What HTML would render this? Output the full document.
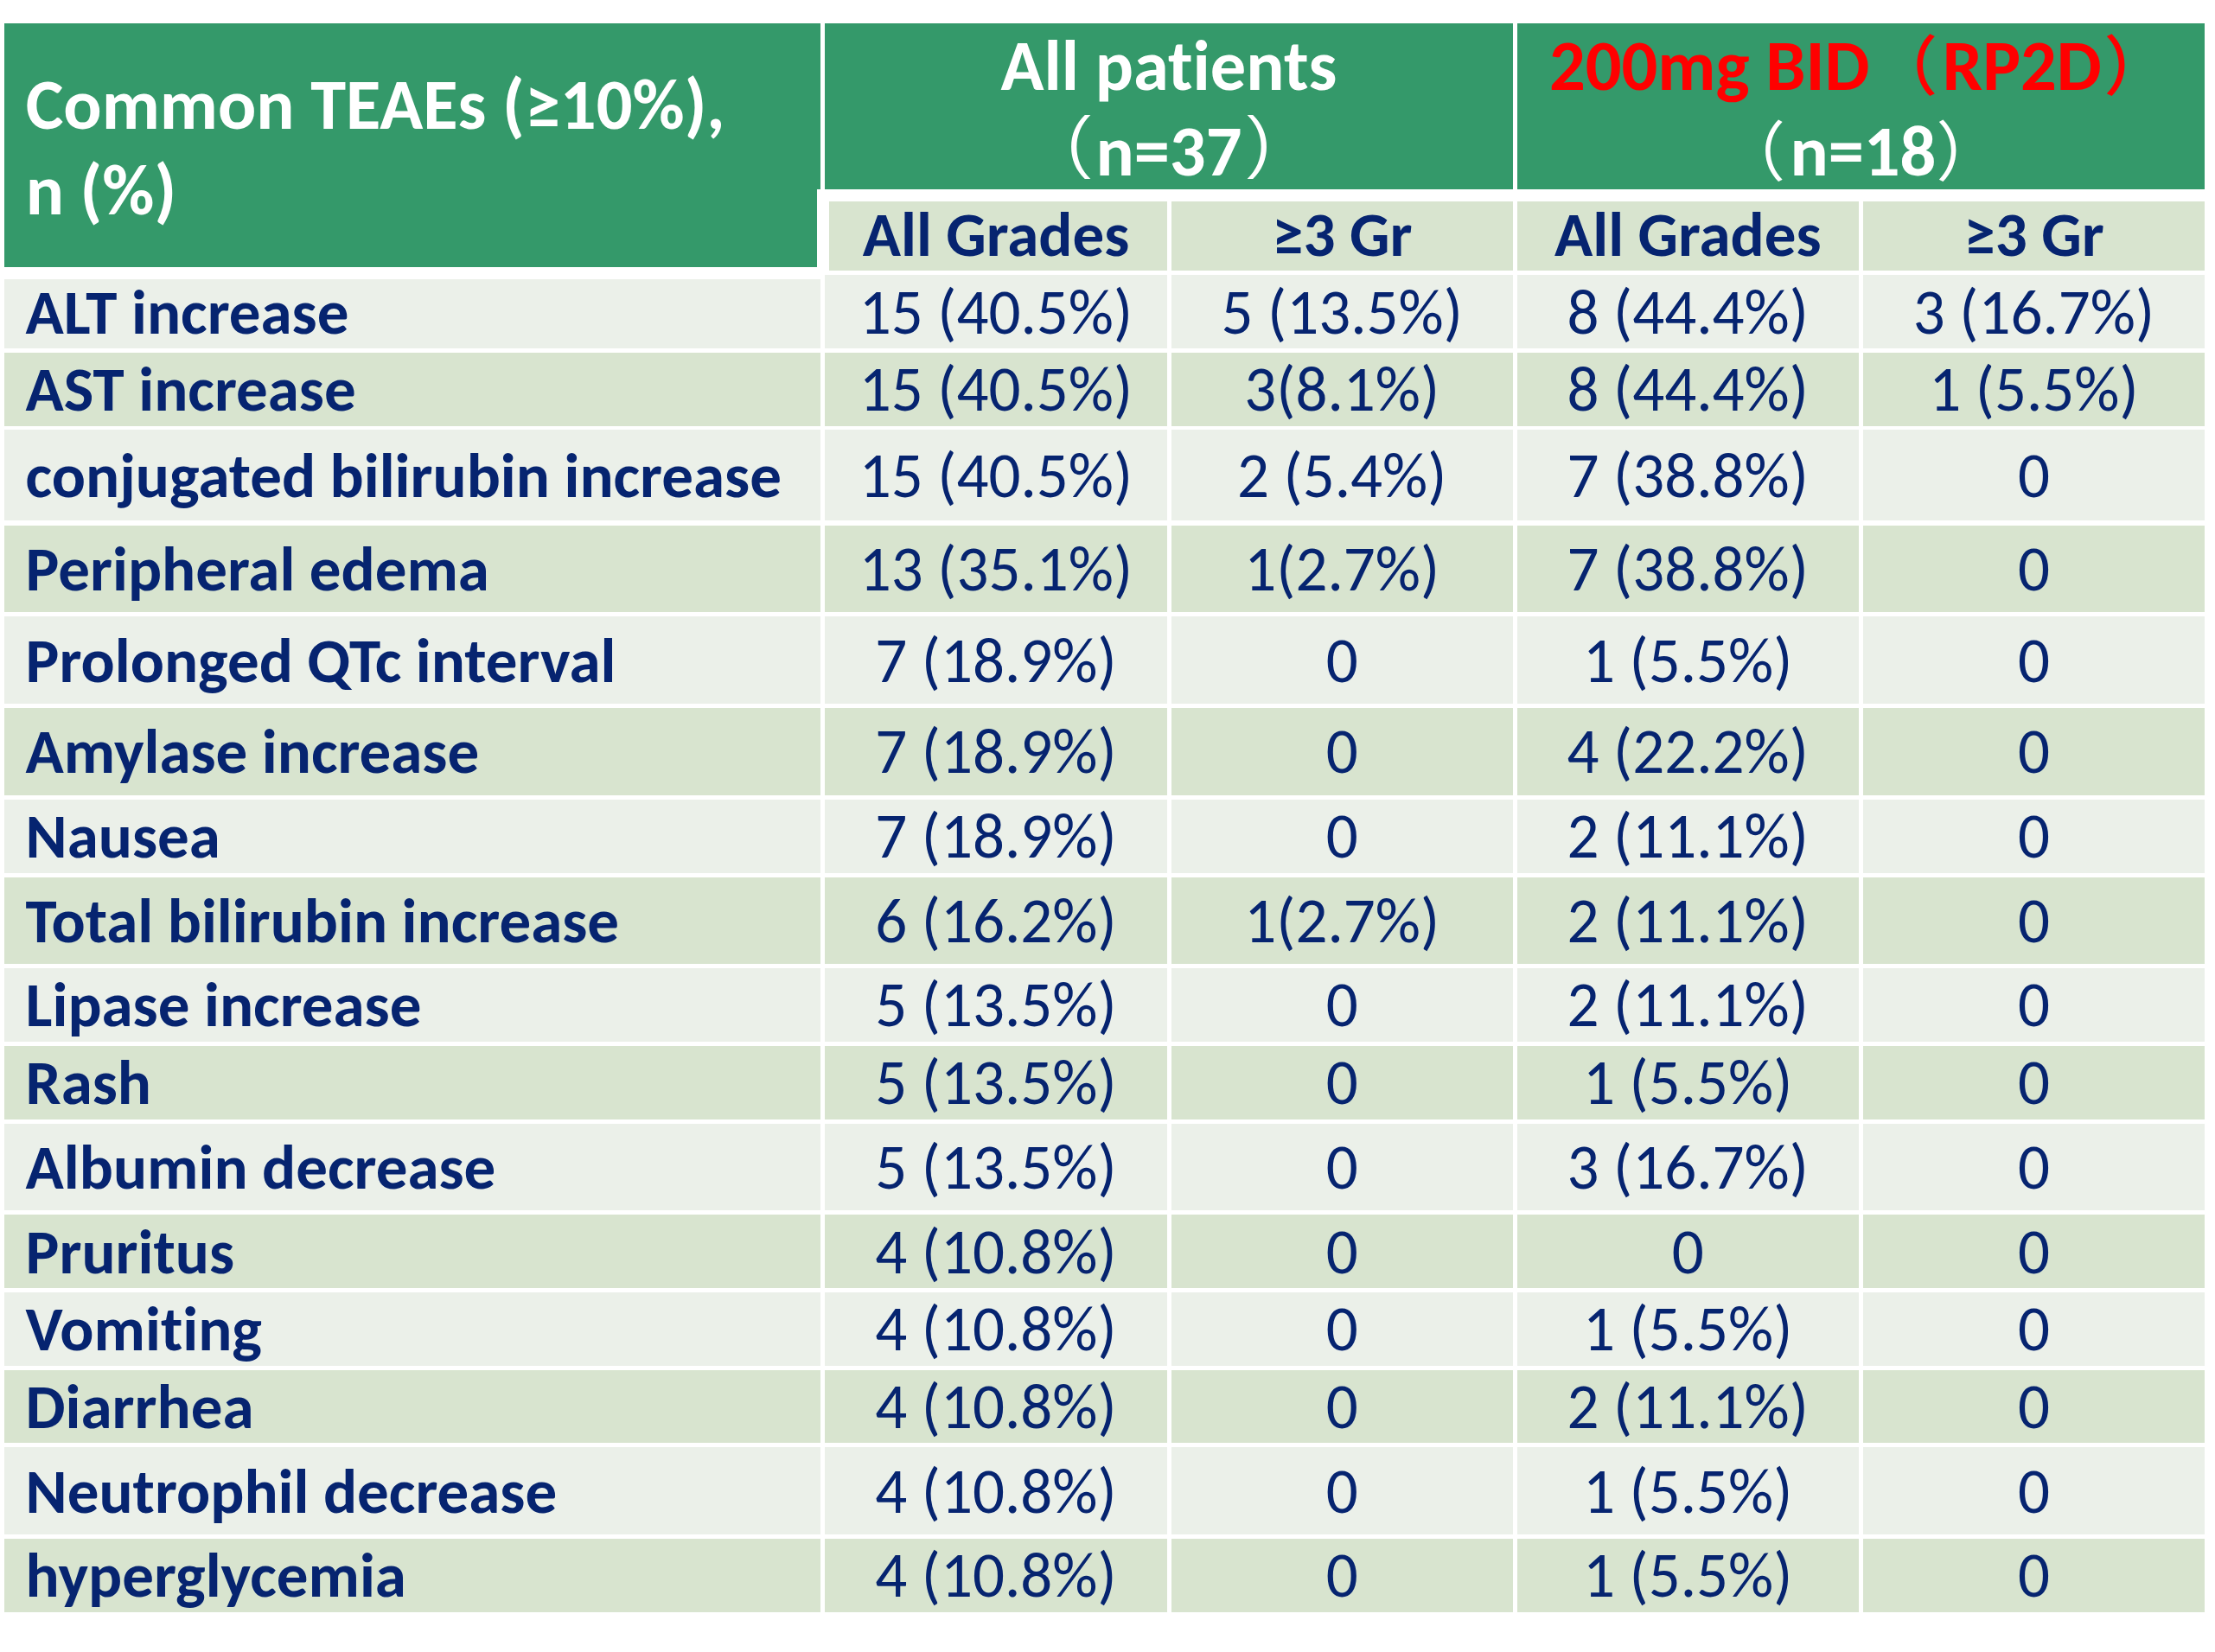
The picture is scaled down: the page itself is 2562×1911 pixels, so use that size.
<!DOCTYPE html>
<html><head><meta charset="utf-8"><title>Common TEAEs</title>
<style>
html,body{margin:0;padding:0;background:#fff;}
body{width:2562px;height:1911px;position:relative;overflow:hidden;}
.b{position:absolute;}
.t{position:absolute;line-height:0;font-variant-ligatures:none;font-feature-settings:"liga" 0,"clig" 0;white-space:nowrap;text-align:center;font-family:"Carlito","Liberation Sans","Noto Sans CJK SC",sans-serif;}
.hw{color:#fff;font-weight:700;}
.hb{color:#062470;font-weight:700;}
.lb{color:#062470;font-weight:700;}
.dr{color:#062470;font-weight:400;}
.red{color:#ff0000;}
.cj{font-family:"Noto Sans CJK SC",sans-serif;font-weight:400;font-size:75px;}
.pl{margin-right:5.4px;}
.ip{font-family:"IPAGothic","Noto Sans CJK JP",sans-serif;font-weight:400;position:relative;top:-2.5px;}
</style></head><body>
<div class="b" style="left:5px;top:27px;width:944.4px;height:191.6px;background:#34996a"></div>
<div class="b" style="left:5px;top:218.6px;width:939.5px;height:90.1px;background:#34996a"></div>
<div class="b" style="left:954px;top:27px;width:796px;height:191.6px;background:#34996a"></div>
<div class="b" style="left:1754.5px;top:27px;width:795.5px;height:191.6px;background:#34996a"></div>
<div class="b" style="left:959px;top:233.2px;width:391px;height:79.6px;background:#d8e4cf"></div>
<div class="b" style="left:1354.5px;top:233.2px;width:395.5px;height:79.6px;background:#d8e4cf"></div>
<div class="b" style="left:1754.5px;top:233.2px;width:395.5px;height:79.6px;background:#d8e4cf"></div>
<div class="b" style="left:2155px;top:233.2px;width:395px;height:79.6px;background:#d8e4cf"></div>
<div class="t hw" style="left:29.7px;top:121.01px;font-size:82.5px;text-align:left">Common TEAEs (≥10%),</div>
<div class="t hw" style="left:29.7px;top:219.91px;font-size:82.5px;text-align:left">n (%)</div>
<div class="t hw" style="left:954px;top:76.21px;width:796px;font-size:82.5px">All patients</div>
<div class="t hw" style="left:954px;top:172.06px;width:796px;font-size:82.5px"><span class="ip">（</span>n=37<span class="ip">）</span></div>
<div class="t hw" style="left:1752.5px;top:71.5px;width:795.5px;font-size:82.5px"><span class="red">200mg BID<span class="cj pl" style="margin-left:3.8px;font-weight:500">（</span>RP2D<span class="cj" style="margin-left:2.7px;font-weight:500">）</span></span></div>
<div class="t hw" style="left:1754.5px;top:170.5px;width:795.5px;font-size:82.5px"><span class="cj pl">（</span>n=18<span class="cj">）</span></div>
<div class="t hb" style="left:954px;top:271.06px;width:396px;font-size:73px">All Grades</div>
<div class="t hb" style="left:1354.5px;top:271.06px;width:395.5px;font-size:73px">≥3 Gr</div>
<div class="t hb" style="left:1754.5px;top:271.06px;width:395.5px;font-size:73px">All Grades</div>
<div class="t hb" style="left:2155px;top:271.06px;width:395px;font-size:73px">≥3 Gr</div>
<div class="b" style="left:5px;top:322.5px;width:944px;height:80.4px;background:#ebf0e9"></div>
<div class="b" style="left:954px;top:318px;width:396px;height:84.9px;background:#ebf0e9"></div>
<div class="b" style="left:1354.5px;top:318px;width:395.5px;height:84.9px;background:#ebf0e9"></div>
<div class="b" style="left:1754.5px;top:318px;width:395.5px;height:84.9px;background:#ebf0e9"></div>
<div class="b" style="left:2155px;top:318px;width:395px;height:84.9px;background:#ebf0e9"></div>
<div class="t lb" style="left:29.6px;top:360.96px;font-size:73px;text-align:left">ALT increase</div>
<div class="t dr" style="left:954px;top:360.96px;width:396px;font-size:73px">15 (40.5%)</div>
<div class="t dr" style="left:1354.5px;top:360.96px;width:395.5px;font-size:73px">5 (13.5%)</div>
<div class="t dr" style="left:1754.5px;top:360.96px;width:395.5px;font-size:73px">8 (44.4%)</div>
<div class="t dr" style="left:2155px;top:360.96px;width:395px;font-size:73px">3 (16.7%)</div>
<div class="b" style="left:5px;top:407.8px;width:944px;height:84.9px;background:#d8e4cf"></div>
<div class="b" style="left:954px;top:407.8px;width:396px;height:84.9px;background:#d8e4cf"></div>
<div class="b" style="left:1354.5px;top:407.8px;width:395.5px;height:84.9px;background:#d8e4cf"></div>
<div class="b" style="left:1754.5px;top:407.8px;width:395.5px;height:84.9px;background:#d8e4cf"></div>
<div class="b" style="left:2155px;top:407.8px;width:395px;height:84.9px;background:#d8e4cf"></div>
<div class="t lb" style="left:29.6px;top:450.36px;font-size:73px;text-align:left">AST increase</div>
<div class="t dr" style="left:954px;top:450.36px;width:396px;font-size:73px">15 (40.5%)</div>
<div class="t dr" style="left:1354.5px;top:450.36px;width:395.5px;font-size:73px">3(8.1%)</div>
<div class="t dr" style="left:1754.5px;top:450.36px;width:395.5px;font-size:73px">8 (44.4%)</div>
<div class="t dr" style="left:2155px;top:450.36px;width:395px;font-size:73px">1 (5.5%)</div>
<div class="b" style="left:5px;top:497.3px;width:944px;height:105.1px;background:#ebf0e9"></div>
<div class="b" style="left:954px;top:497.3px;width:396px;height:105.1px;background:#ebf0e9"></div>
<div class="b" style="left:1354.5px;top:497.3px;width:395.5px;height:105.1px;background:#ebf0e9"></div>
<div class="b" style="left:1754.5px;top:497.3px;width:395.5px;height:105.1px;background:#ebf0e9"></div>
<div class="b" style="left:2155px;top:497.3px;width:395px;height:105.1px;background:#ebf0e9"></div>
<div class="t lb" style="left:29.6px;top:550.46px;font-size:73px;text-align:left">conjugated bilirubin increase</div>
<div class="t dr" style="left:954px;top:550.46px;width:396px;font-size:73px">15 (40.5%)</div>
<div class="t dr" style="left:1354.5px;top:550.46px;width:395.5px;font-size:73px">2 (5.4%)</div>
<div class="t dr" style="left:1754.5px;top:550.46px;width:395.5px;font-size:73px">7 (38.8%)</div>
<div class="t dr" style="left:2155px;top:550.46px;width:395px;font-size:73px">0</div>
<div class="b" style="left:5px;top:607.8px;width:944px;height:100.2px;background:#d8e4cf"></div>
<div class="b" style="left:954px;top:607.8px;width:396px;height:100.2px;background:#d8e4cf"></div>
<div class="b" style="left:1354.5px;top:607.8px;width:395.5px;height:100.2px;background:#d8e4cf"></div>
<div class="b" style="left:1754.5px;top:607.8px;width:395.5px;height:100.2px;background:#d8e4cf"></div>
<div class="b" style="left:2155px;top:607.8px;width:395px;height:100.2px;background:#d8e4cf"></div>
<div class="t lb" style="left:29.6px;top:657.66px;font-size:73px;text-align:left">Peripheral edema</div>
<div class="t dr" style="left:954px;top:657.66px;width:396px;font-size:73px">13 (35.1%)</div>
<div class="t dr" style="left:1354.5px;top:657.66px;width:395.5px;font-size:73px">1(2.7%)</div>
<div class="t dr" style="left:1754.5px;top:657.66px;width:395.5px;font-size:73px">7 (38.8%)</div>
<div class="t dr" style="left:2155px;top:657.66px;width:395px;font-size:73px">0</div>
<div class="b" style="left:5px;top:712.9px;width:944px;height:101.2px;background:#ebf0e9"></div>
<div class="b" style="left:954px;top:712.9px;width:396px;height:101.2px;background:#ebf0e9"></div>
<div class="b" style="left:1354.5px;top:712.9px;width:395.5px;height:101.2px;background:#ebf0e9"></div>
<div class="b" style="left:1754.5px;top:712.9px;width:395.5px;height:101.2px;background:#ebf0e9"></div>
<div class="b" style="left:2155px;top:712.9px;width:395px;height:101.2px;background:#ebf0e9"></div>
<div class="t lb" style="left:29.6px;top:763.76px;font-size:73px;text-align:left">Prolonged QTc interval</div>
<div class="t dr" style="left:954px;top:763.76px;width:396px;font-size:73px">7 (18.9%)</div>
<div class="t dr" style="left:1354.5px;top:763.76px;width:395.5px;font-size:73px">0</div>
<div class="t dr" style="left:1754.5px;top:763.76px;width:395.5px;font-size:73px">1 (5.5%)</div>
<div class="t dr" style="left:2155px;top:763.76px;width:395px;font-size:73px">0</div>
<div class="b" style="left:5px;top:819.3px;width:944px;height:100.5px;background:#d8e4cf"></div>
<div class="b" style="left:954px;top:819.3px;width:396px;height:100.5px;background:#d8e4cf"></div>
<div class="b" style="left:1354.5px;top:819.3px;width:395.5px;height:100.5px;background:#d8e4cf"></div>
<div class="b" style="left:1754.5px;top:819.3px;width:395.5px;height:100.5px;background:#d8e4cf"></div>
<div class="b" style="left:2155px;top:819.3px;width:395px;height:100.5px;background:#d8e4cf"></div>
<div class="t lb" style="left:29.6px;top:869.36px;font-size:73px;text-align:left">Amylase increase</div>
<div class="t dr" style="left:954px;top:869.36px;width:396px;font-size:73px">7 (18.9%)</div>
<div class="t dr" style="left:1354.5px;top:869.36px;width:395.5px;font-size:73px">0</div>
<div class="t dr" style="left:1754.5px;top:869.36px;width:395.5px;font-size:73px">4 (22.2%)</div>
<div class="t dr" style="left:2155px;top:869.36px;width:395px;font-size:73px">0</div>
<div class="b" style="left:5px;top:924.6px;width:944px;height:85px;background:#ebf0e9"></div>
<div class="b" style="left:954px;top:924.6px;width:396px;height:85px;background:#ebf0e9"></div>
<div class="b" style="left:1354.5px;top:924.6px;width:395.5px;height:85px;background:#ebf0e9"></div>
<div class="b" style="left:1754.5px;top:924.6px;width:395.5px;height:85px;background:#ebf0e9"></div>
<div class="b" style="left:2155px;top:924.6px;width:395px;height:85px;background:#ebf0e9"></div>
<div class="t lb" style="left:29.6px;top:967.36px;font-size:73px;text-align:left">Nausea</div>
<div class="t dr" style="left:954px;top:967.36px;width:396px;font-size:73px">7 (18.9%)</div>
<div class="t dr" style="left:1354.5px;top:967.36px;width:395.5px;font-size:73px">0</div>
<div class="t dr" style="left:1754.5px;top:967.36px;width:395.5px;font-size:73px">2 (11.1%)</div>
<div class="t dr" style="left:2155px;top:967.36px;width:395px;font-size:73px">0</div>
<div class="b" style="left:5px;top:1014.8px;width:944px;height:99.8px;background:#d8e4cf"></div>
<div class="b" style="left:954px;top:1014.8px;width:396px;height:99.8px;background:#d8e4cf"></div>
<div class="b" style="left:1354.5px;top:1014.8px;width:395.5px;height:99.8px;background:#d8e4cf"></div>
<div class="b" style="left:1754.5px;top:1014.8px;width:395.5px;height:99.8px;background:#d8e4cf"></div>
<div class="b" style="left:2155px;top:1014.8px;width:395px;height:99.8px;background:#d8e4cf"></div>
<div class="t lb" style="left:29.6px;top:1064.86px;font-size:73px;text-align:left">Total bilirubin increase</div>
<div class="t dr" style="left:954px;top:1064.86px;width:396px;font-size:73px">6 (16.2%)</div>
<div class="t dr" style="left:1354.5px;top:1064.86px;width:395.5px;font-size:73px">1(2.7%)</div>
<div class="t dr" style="left:1754.5px;top:1064.86px;width:395.5px;font-size:73px">2 (11.1%)</div>
<div class="t dr" style="left:2155px;top:1064.86px;width:395px;font-size:73px">0</div>
<div class="b" style="left:5px;top:1120.1px;width:944px;height:84.9px;background:#ebf0e9"></div>
<div class="b" style="left:954px;top:1120.1px;width:396px;height:84.9px;background:#ebf0e9"></div>
<div class="b" style="left:1354.5px;top:1120.1px;width:395.5px;height:84.9px;background:#ebf0e9"></div>
<div class="b" style="left:1754.5px;top:1120.1px;width:395.5px;height:84.9px;background:#ebf0e9"></div>
<div class="b" style="left:2155px;top:1120.1px;width:395px;height:84.9px;background:#ebf0e9"></div>
<div class="t lb" style="left:29.6px;top:1162.26px;font-size:73px;text-align:left">Lipase increase</div>
<div class="t dr" style="left:954px;top:1162.26px;width:396px;font-size:73px">5 (13.5%)</div>
<div class="t dr" style="left:1354.5px;top:1162.26px;width:395.5px;font-size:73px">0</div>
<div class="t dr" style="left:1754.5px;top:1162.26px;width:395.5px;font-size:73px">2 (11.1%)</div>
<div class="t dr" style="left:2155px;top:1162.26px;width:395px;font-size:73px">0</div>
<div class="b" style="left:5px;top:1210px;width:944px;height:84.7px;background:#d8e4cf"></div>
<div class="b" style="left:954px;top:1210px;width:396px;height:84.7px;background:#d8e4cf"></div>
<div class="b" style="left:1354.5px;top:1210px;width:395.5px;height:84.7px;background:#d8e4cf"></div>
<div class="b" style="left:1754.5px;top:1210px;width:395.5px;height:84.7px;background:#d8e4cf"></div>
<div class="b" style="left:2155px;top:1210px;width:395px;height:84.7px;background:#d8e4cf"></div>
<div class="t lb" style="left:29.6px;top:1252.46px;font-size:73px;text-align:left">Rash</div>
<div class="t dr" style="left:954px;top:1252.46px;width:396px;font-size:73px">5 (13.5%)</div>
<div class="t dr" style="left:1354.5px;top:1252.46px;width:395.5px;font-size:73px">0</div>
<div class="t dr" style="left:1754.5px;top:1252.46px;width:395.5px;font-size:73px">1 (5.5%)</div>
<div class="t dr" style="left:2155px;top:1252.46px;width:395px;font-size:73px">0</div>
<div class="b" style="left:5px;top:1299.6px;width:944px;height:100.6px;background:#ebf0e9"></div>
<div class="b" style="left:954px;top:1299.6px;width:396px;height:100.6px;background:#ebf0e9"></div>
<div class="b" style="left:1354.5px;top:1299.6px;width:395.5px;height:100.6px;background:#ebf0e9"></div>
<div class="b" style="left:1754.5px;top:1299.6px;width:395.5px;height:100.6px;background:#ebf0e9"></div>
<div class="b" style="left:2155px;top:1299.6px;width:395px;height:100.6px;background:#ebf0e9"></div>
<div class="t lb" style="left:29.6px;top:1349.86px;font-size:73px;text-align:left">Albumin decrease</div>
<div class="t dr" style="left:954px;top:1349.86px;width:396px;font-size:73px">5 (13.5%)</div>
<div class="t dr" style="left:1354.5px;top:1349.86px;width:395.5px;font-size:73px">0</div>
<div class="t dr" style="left:1754.5px;top:1349.86px;width:395.5px;font-size:73px">3 (16.7%)</div>
<div class="t dr" style="left:2155px;top:1349.86px;width:395px;font-size:73px">0</div>
<div class="b" style="left:5px;top:1405.1px;width:944px;height:84.7px;background:#d8e4cf"></div>
<div class="b" style="left:954px;top:1405.1px;width:396px;height:84.7px;background:#d8e4cf"></div>
<div class="b" style="left:1354.5px;top:1405.1px;width:395.5px;height:84.7px;background:#d8e4cf"></div>
<div class="b" style="left:1754.5px;top:1405.1px;width:395.5px;height:84.7px;background:#d8e4cf"></div>
<div class="b" style="left:2155px;top:1405.1px;width:395px;height:84.7px;background:#d8e4cf"></div>
<div class="t lb" style="left:29.6px;top:1447.56px;font-size:73px;text-align:left">Pruritus</div>
<div class="t dr" style="left:954px;top:1447.56px;width:396px;font-size:73px">4 (10.8%)</div>
<div class="t dr" style="left:1354.5px;top:1447.56px;width:395.5px;font-size:73px">0</div>
<div class="t dr" style="left:1754.5px;top:1447.56px;width:395.5px;font-size:73px">0</div>
<div class="t dr" style="left:2155px;top:1447.56px;width:395px;font-size:73px">0</div>
<div class="b" style="left:5px;top:1494.9px;width:944px;height:84.8px;background:#ebf0e9"></div>
<div class="b" style="left:954px;top:1494.9px;width:396px;height:84.8px;background:#ebf0e9"></div>
<div class="b" style="left:1354.5px;top:1494.9px;width:395.5px;height:84.8px;background:#ebf0e9"></div>
<div class="b" style="left:1754.5px;top:1494.9px;width:395.5px;height:84.8px;background:#ebf0e9"></div>
<div class="b" style="left:2155px;top:1494.9px;width:395px;height:84.8px;background:#ebf0e9"></div>
<div class="t lb" style="left:29.6px;top:1537.36px;font-size:73px;text-align:left">Vomiting</div>
<div class="t dr" style="left:954px;top:1537.36px;width:396px;font-size:73px">4 (10.8%)</div>
<div class="t dr" style="left:1354.5px;top:1537.36px;width:395.5px;font-size:73px">0</div>
<div class="t dr" style="left:1754.5px;top:1537.36px;width:395.5px;font-size:73px">1 (5.5%)</div>
<div class="t dr" style="left:2155px;top:1537.36px;width:395px;font-size:73px">0</div>
<div class="b" style="left:5px;top:1584.8px;width:944px;height:84.7px;background:#d8e4cf"></div>
<div class="b" style="left:954px;top:1584.8px;width:396px;height:84.7px;background:#d8e4cf"></div>
<div class="b" style="left:1354.5px;top:1584.8px;width:395.5px;height:84.7px;background:#d8e4cf"></div>
<div class="b" style="left:1754.5px;top:1584.8px;width:395.5px;height:84.7px;background:#d8e4cf"></div>
<div class="b" style="left:2155px;top:1584.8px;width:395px;height:84.7px;background:#d8e4cf"></div>
<div class="t lb" style="left:29.6px;top:1626.96px;font-size:73px;text-align:left">Diarrhea</div>
<div class="t dr" style="left:954px;top:1626.96px;width:396px;font-size:73px">4 (10.8%)</div>
<div class="t dr" style="left:1354.5px;top:1626.96px;width:395.5px;font-size:73px">0</div>
<div class="t dr" style="left:1754.5px;top:1626.96px;width:395.5px;font-size:73px">2 (11.1%)</div>
<div class="t dr" style="left:2155px;top:1626.96px;width:395px;font-size:73px">0</div>
<div class="b" style="left:5px;top:1674.4px;width:944px;height:100.8px;background:#ebf0e9"></div>
<div class="b" style="left:954px;top:1674.4px;width:396px;height:100.8px;background:#ebf0e9"></div>
<div class="b" style="left:1354.5px;top:1674.4px;width:395.5px;height:100.8px;background:#ebf0e9"></div>
<div class="b" style="left:1754.5px;top:1674.4px;width:395.5px;height:100.8px;background:#ebf0e9"></div>
<div class="b" style="left:2155px;top:1674.4px;width:395px;height:100.8px;background:#ebf0e9"></div>
<div class="t lb" style="left:29.6px;top:1724.96px;font-size:73px;text-align:left">Neutrophil decrease</div>
<div class="t dr" style="left:954px;top:1724.96px;width:396px;font-size:73px">4 (10.8%)</div>
<div class="t dr" style="left:1354.5px;top:1724.96px;width:395.5px;font-size:73px">0</div>
<div class="t dr" style="left:1754.5px;top:1724.96px;width:395.5px;font-size:73px">1 (5.5%)</div>
<div class="t dr" style="left:2155px;top:1724.96px;width:395px;font-size:73px">0</div>
<div class="b" style="left:5px;top:1780.2px;width:944px;height:84.8px;background:#d8e4cf"></div>
<div class="b" style="left:954px;top:1780.2px;width:396px;height:84.8px;background:#d8e4cf"></div>
<div class="b" style="left:1354.5px;top:1780.2px;width:395.5px;height:84.8px;background:#d8e4cf"></div>
<div class="b" style="left:1754.5px;top:1780.2px;width:395.5px;height:84.8px;background:#d8e4cf"></div>
<div class="b" style="left:2155px;top:1780.2px;width:395px;height:84.8px;background:#d8e4cf"></div>
<div class="t lb" style="left:29.6px;top:1822.46px;font-size:73px;text-align:left">hyperglycemia</div>
<div class="t dr" style="left:954px;top:1822.46px;width:396px;font-size:73px">4 (10.8%)</div>
<div class="t dr" style="left:1354.5px;top:1822.46px;width:395.5px;font-size:73px">0</div>
<div class="t dr" style="left:1754.5px;top:1822.46px;width:395.5px;font-size:73px">1 (5.5%)</div>
<div class="t dr" style="left:2155px;top:1822.46px;width:395px;font-size:73px">0</div>
</body></html>
